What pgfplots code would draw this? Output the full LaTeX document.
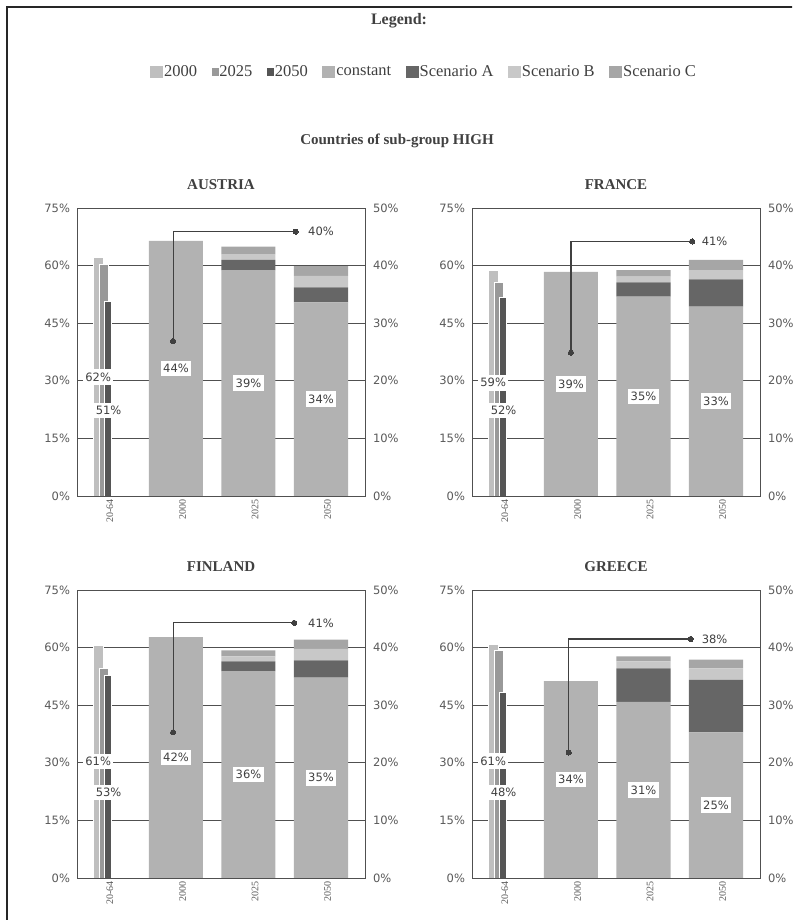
\documentclass[border=0pt]{standalone}
\usepackage{fontspec}
\setmainfont{Liberation Serif}
\newfontfamily\dejavu{DejaVu Sans}
\usepackage{pgfplots}
\pgfplotsset{compat=1.18}

\definecolor{cA}{HTML}{BFBFBF}
\definecolor{cB}{HTML}{999999}
\definecolor{cC}{HTML}{555555}
\definecolor{cconst}{HTML}{B2B2B2}
\definecolor{cscA}{HTML}{666666}
\definecolor{cscB}{HTML}{C8C8C8}
\definecolor{cscC}{HTML}{A6A6A6}
\definecolor{axgray}{HTML}{505050}
\definecolor{txtgray}{HTML}{595959}
\definecolor{labgray}{HTML}{404040}
\definecolor{titlegray}{HTML}{404040}

\tikzset{lab/.style={fill=white, inner xsep=2.5pt, inner ysep=3.5pt, font=\dejavu\fontsize{11.5}{13}\selectfont, text=labgray}}

\pgfplotsset{
  base/.style={scale only axis, width=288pt, height=288pt,
    xmin=-0.365, xmax=3.607, anchor=south west},
  leftax/.style={base, ymin=0, ymax=75,
    ytick={0,15,30,45,60,75},
    yticklabels={0\%,15\%,30\%,45\%,60\%,75\%},
    xtick={0,1,2,3}, xticklabels={20-64,2000,2025,2050},
    ymajorgrids, grid style={draw=axgray, line width=1pt},
    axis line style={draw=none}, major tick length=0pt,
    yticklabel style={font=\dejavu\fontsize{11.5}{13}\selectfont, text=txtgray, xshift=-3.5pt},
    xticklabel style={rotate=90, anchor=east, font=\fontsize{10}{12}\selectfont, text=txtgray, yshift=-6.5pt},
    title style={font=\bfseries\fontsize{15}{18}\selectfont, text=titlegray, yshift=9pt}},
  rightax/.style={base, ymin=0, ymax=50, axis y line*=right, hide x axis,
    axis line style={draw=none}, major tick length=0pt,
    ytick={0,10,20,30,40,50},
    yticklabels={0\%,10\%,20\%,30\%,40\%,50\%},
    yticklabel style={font=\dejavu\fontsize{11.5}{13}\selectfont, text=txtgray, xshift=4.5pt},
    ybar stacked, bar width=0.745},
  topax/.style={base, ymin=0, ymax=50, xtick=\empty, ytick=\empty,
    axis line style={draw=axgray, line width=1pt}},
  thinA/.style={ybar, bar width=0.126, bar shift=-0.073, fill=cA, draw=white, line width=0.4pt},
  thinB/.style={ybar, bar width=0.13, bar shift=0.006, fill=cB, draw=white, line width=0.4pt},
  thinC/.style={ybar, bar width=0.10, bar shift=0.06, fill=cC, draw=white, line width=0.4pt},
  anno/.style={draw=labgray, line width=1.1pt, mark=*, mark size=2.6pt, mark indices={1,3},
    mark options={fill=labgray, draw=labgray, line width=0pt}},
}

\begin{document}
\begin{tikzpicture}
\path[use as bounding box] (0pt,0pt) rectangle (792pt,-920pt);
\clip (0pt,0pt) rectangle (792pt,-920pt);
\draw[line width=2pt, color=black!85] (7pt,-925pt) -- (7pt,-7.5pt) -- (800pt,-7.5pt);
\node[font=\bfseries\fontsize{16}{19}\selectfont, text=titlegray] at (399pt,-21pt) {Legend:};
\node[font=\bfseries\fontsize{15}{18}\selectfont, text=titlegray] at (397pt,-141pt) {Countries of sub-group HIGH};

% ================= AUSTRIA =================
\begin{axis}[leftax, at={(77pt,-496pt)}, title={AUSTRIA}]
\addplot[thinA] coordinates {(0,62.1)};
\addplot[thinB] coordinates {(0,60.3)};
\addplot[thinC] coordinates {(0,50.8)};
\node[lab] at (axis cs:-0.073,31) {62\%};
\node[lab] at (axis cs:0.07,22.3) {51\%};
\end{axis}
\begin{axis}[rightax, at={(77pt,-496pt)}]
\addplot[fill=cconst, draw=none] coordinates {(1,44.3) (2,39.2) (3,33.6)};
\addplot[fill=cscA, draw=none] coordinates {(1,0) (2,1.8) (3,2.6)};
\addplot[fill=cscB, draw=none] coordinates {(1,0) (2,1.0) (3,2.0)};
\addplot[fill=cscC, draw=none] coordinates {(1,0) (2,1.3) (3,1.7)};
\end{axis}
\begin{axis}[topax, at={(77pt,-496pt)},
  legend columns=-1,
  legend style={at={(0.243,1.472)}, anchor=west, draw=none, fill=none,
    font=\fontsize{16.5}{19}\selectfont, text=labgray,
    /tikz/every even column/.append style={column sep=12.5pt},
    /tikz/every odd column/.append style={column sep=-0.5pt}}]
\addlegendimage{legend image code/.code={\fill[cA] (0pt,-5.5pt) rectangle (12pt,5.5pt);}}\addlegendentry{2000}
\addlegendimage{legend image code/.code={\fill[cB] (5pt,-3.5pt) rectangle (11pt,3.5pt);}}\addlegendentry{2025}
\addlegendimage{legend image code/.code={\fill[cC] (5pt,-3.5pt) rectangle (11pt,3.5pt);}}\addlegendentry{2050}
\addlegendimage{legend image code/.code={\fill[cconst] (0pt,-5.5pt) rectangle (12pt,5.5pt);}}\addlegendentry{constant}
\addlegendimage{legend image code/.code={\fill[cscA] (0pt,-5.5pt) rectangle (12pt,5.5pt);}}\addlegendentry{Scenario A}
\addlegendimage{legend image code/.code={\fill[cscB] (0pt,-5.5pt) rectangle (12pt,5.5pt);}}\addlegendentry{Scenario B}
\addlegendimage{legend image code/.code={\fill[cscC] (0pt,-5.5pt) rectangle (12pt,5.5pt);}}\addlegendentry{Scenario C}
\addplot[anno] coordinates {(0.96,26.9) (0.96,45.9) (2.65,45.9)};
\node[lab] at (axis cs:3.0,45.9) {40\%};
\node[lab] at (axis cs:1,22.15) {44\%};
\node[lab] at (axis cs:2,19.6) {39\%};
\node[lab] at (axis cs:3,16.8) {34\%};
\end{axis}

% ================= FRANCE =================
\begin{axis}[leftax, at={(472pt,-496pt)}, title={FRANCE}]
\addplot[thinA] coordinates {(0,58.9)};
\addplot[thinB] coordinates {(0,55.6)};
\addplot[thinC] coordinates {(0,51.9)};
\node[lab] at (axis cs:-0.073,29.5) {59\%};
\node[lab] at (axis cs:0.07,22.3) {52\%};
\end{axis}
\begin{axis}[rightax, at={(472pt,-496pt)}]
\addplot[fill=cconst, draw=none] coordinates {(1,38.9) (2,34.6) (3,32.9)};
\addplot[fill=cscA, draw=none] coordinates {(1,0) (2,2.5) (3,4.7)};
\addplot[fill=cscB, draw=none] coordinates {(1,0) (2,1.0) (3,1.6)};
\addplot[fill=cscC, draw=none] coordinates {(1,0) (2,1.1) (3,1.8)};
\end{axis}
\begin{axis}[topax, at={(472pt,-496pt)}]
\addplot[anno] coordinates {(1.0,24.9) (1.0,44.2) (2.67,44.2)};
\node[lab] at (axis cs:2.98,44.2) {41\%};
\node[lab] at (axis cs:1,19.45) {39\%};
\node[lab] at (axis cs:2,17.3) {35\%};
\node[lab] at (axis cs:3,16.45) {33\%};
\end{axis}

% ================= FINLAND =================
\begin{axis}[leftax, at={(77pt,-878pt)}, title={FINLAND}]
\addplot[thinA] coordinates {(0,60.7)};
\addplot[thinB] coordinates {(0,54.6)};
\addplot[thinC] coordinates {(0,52.9)};
\node[lab] at (axis cs:-0.073,30.35) {61\%};
\node[lab] at (axis cs:0.07,22.3) {53\%};
\end{axis}
\begin{axis}[rightax, at={(77pt,-878pt)}]
\addplot[fill=cconst, draw=none] coordinates {(1,41.8) (2,35.9) (3,34.8)};
\addplot[fill=cscA, draw=none] coordinates {(1,0) (2,1.7) (3,3.0)};
\addplot[fill=cscB, draw=none] coordinates {(1,0) (2,0.9) (3,2.0)};
\addplot[fill=cscC, draw=none] coordinates {(1,0) (2,1.0) (3,1.6)};
\end{axis}
\begin{axis}[topax, at={(77pt,-878pt)}]
\addplot[anno] coordinates {(0.96,25.3) (0.96,44.3) (2.63,44.3)};
\node[lab] at (axis cs:3.0,44.3) {41\%};
\node[lab] at (axis cs:1,20.9) {42\%};
\node[lab] at (axis cs:2,17.95) {36\%};
\node[lab] at (axis cs:3,17.4) {35\%};
\end{axis}

% ================= GREECE =================
\begin{axis}[leftax, at={(472pt,-878pt)}, title={GREECE}]
\addplot[thinA] coordinates {(0,61.0)};
\addplot[thinB] coordinates {(0,59.2)};
\addplot[thinC] coordinates {(0,48.3)};
\node[lab] at (axis cs:-0.073,30.5) {61\%};
\node[lab] at (axis cs:0.07,22.3) {48\%};
\end{axis}
\begin{axis}[rightax, at={(472pt,-878pt)}]
\addplot[fill=cconst, draw=none] coordinates {(1,34.2) (2,30.6) (3,25.3)};
\addplot[fill=cscA, draw=none] coordinates {(1,0) (2,5.8) (3,9.1)};
\addplot[fill=cscB, draw=none] coordinates {(1,0) (2,1.2) (3,2.0)};
\addplot[fill=cscC, draw=none] coordinates {(1,0) (2,0.9) (3,1.5)};
\end{axis}
\begin{axis}[topax, at={(472pt,-878pt)}]
\addplot[anno] coordinates {(0.97,21.8) (0.97,41.5) (2.65,41.5)};
\node[lab] at (axis cs:2.98,41.5) {38\%};
\node[lab] at (axis cs:1,17.1) {34\%};
\node[lab] at (axis cs:2,15.3) {31\%};
\node[lab] at (axis cs:3,12.65) {25\%};
\end{axis}
\end{tikzpicture}
\end{document}
